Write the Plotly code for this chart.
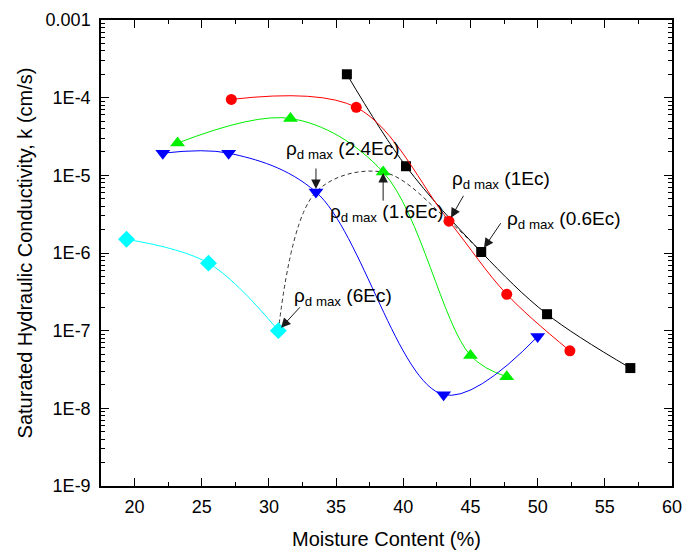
import math
import plotly.graph_objects as go

# Compaction energy series: moisture content (%) and saturated hydraulic conductivity k (cm/s)
mc_06ec = [35.8, 40.2, 45.8, 50.7, 56.9]
k_06ec = [2.0e-4, 1.31e-5, 1.03e-6, 1.63e-7, 3.3e-8]

mc_1ec = [27.2, 36.5, 43.4, 47.7, 52.4]
k_1ec = [9.5e-5, 7.5e-5, 2.57e-6, 2.94e-7, 5.5e-8]

mc_16ec = [23.2, 31.6, 38.5, 45.0, 47.7]
k_16ec = [2.6e-5, 5.4e-5, 1.1e-5, 4.8e-8, 2.55e-8]

mc_24ec = [22.1, 27.0, 33.5, 43.0, 50.0]
k_24ec = [1.93e-5, 1.93e-5, 6.1e-6, 1.5e-8, 8.4e-8]

mc_6ec = [19.4, 25.5, 30.7]
k_6ec = [1.5e-6, 7.4e-7, 1.0e-7]

# Points at maximum dry density for each energy level (6Ec -> 0.6Ec)
opt_mc = [mc_6ec[2], mc_24ec[2], mc_16ec[2], mc_1ec[2], mc_06ec[2]]
opt_k = [k_6ec[2], k_24ec[2], k_16ec[2], k_1ec[2], k_06ec[2]]

y_tickvals = [1e-9, 1e-8, 1e-7, 1e-6, 1e-5, 1e-4, 1e-3]
y_ticktext = ["1E-9", "1E-8", "1E-7", "1E-6", "1E-5", "1E-4", "0.001"]
x_tickvals = [20, 25, 30, 35, 40, 45, 50, 55, 60]

FONT = "Arial, Liberation Sans, sans-serif"

fig = go.Figure()

series = [
    (mc_06ec, k_06ec, "#000000", "square", 10),
    (mc_1ec, k_1ec, "#ff0000", "circle", 11),
    (mc_16ec, k_16ec, "#00f000", "triangle-up", 13),
    (mc_24ec, k_24ec, "#0000ff", "triangle-down", 13),
    (mc_6ec, k_6ec, "#00ffff", "diamond", 13),
]

# dashed curve joining the maximum dry density points
fig.add_trace(go.Scatter(
    x=opt_mc, y=opt_k, mode="lines",
    line=dict(color="#333333", width=1, dash="4px,3px", shape="spline", smoothing=1.0),
    showlegend=False, hoverinfo="skip",
))

for mc, k, color, symbol, size in series:
    fig.add_trace(go.Scatter(
        x=mc, y=k, mode="lines+markers",
        line=dict(color=color, width=1, shape="spline", smoothing=1.0),
        marker=dict(color=color, symbol=symbol, size=size, line=dict(width=0)),
        showlegend=False,
    ))

# label text: (x, log10 y, label)
labels = [
    (31.1, -4.67, "ρ<sub>d max</sub> (2.4Ec)"),
    (34.4, -5.49, "ρ<sub>d max</sub> (1.6Ec)"),
    (43.5, -5.06, "ρ<sub>d max</sub> (1Ec)"),
    (47.6, -5.58, "ρ<sub>d max</sub> (0.6Ec)"),
    (31.7, -6.57, "ρ<sub>d max</sub> (6Ec)"),
]
for lx, ly, txt in labels:
    fig.add_annotation(
        x=lx, y=ly, xref="x", yref="y", text=txt, showarrow=False,
        xanchor="left", yanchor="middle",
        font=dict(family=FONT, size=19, color="#000000"),
    )

# arrows pointing at the maximum dry density markers: (target x, target k, ax, ay, standoff)
# annotation positions on a log axis are given in log10 units
arrows = [
    (opt_mc[1], opt_k[1], 0, -27, 3),
    (opt_mc[2], opt_k[2], 0, 32, 1),
    (opt_mc[3], opt_k[3], 16, -28, 4),
    (opt_mc[4], opt_k[4], 21, -31, 5),
    (opt_mc[0], opt_k[0], 23, -25, 4),
]
for tx, tk, ax, ay, so in arrows:
    fig.add_annotation(
        x=tx, y=math.log10(tk), xref="x", yref="y", text="·", showarrow=True,
        ax=ax, ay=ay,
        font=dict(family=FONT, size=6, color="rgba(255,255,255,0)"), borderpad=0,
        arrowhead=2, arrowsize=1.9, arrowwidth=1, arrowcolor="#1a1a1a",
        standoff=so,
    )

axis_common = dict(
    showline=True, linecolor="#000000", linewidth=1.5, mirror="allticks",
    ticks="inside", tickcolor="#000000", tickwidth=1.2, ticklen=8,
    showgrid=False, zeroline=False,
    tickfont=dict(family=FONT, size=18, color="#000000"),
    title_font=dict(family=FONT, size=20, color="#000000"),
)

minor_y = [m * 10.0 ** e for e in range(-9, -3) for m in range(2, 10)]

fig.update_xaxes(
    range=[17.5, 60], tickvals=x_tickvals,
    minor=dict(ticks="inside", ticklen=4, tickwidth=1, tickcolor="#000000", dtick=2.5, tick0=0, showgrid=False),
    title_text="Moisture Content (%)", title_standoff=16, ticklabelstandoff=4,
    **axis_common,
)
fig.update_yaxes(
    type="log", range=[-9, -3], tickvals=y_tickvals, ticktext=y_ticktext,
    minor=dict(ticks="inside", ticklen=4, tickwidth=1, tickcolor="#000000", tickvals=minor_y, showgrid=False),
    title_text="Saturated Hydraulic Conductivity, k (cm/s)", title_standoff=8, ticklabelstandoff=5,
    **axis_common,
)

fig.update_layout(
    width=692, height=559,
    margin=dict(l=101, r=10, t=18, b=73),
    plot_bgcolor="#ffffff", paper_bgcolor="#ffffff",
    font=dict(family=FONT, color="#000000"),
)

fig.write_html("out.html")
